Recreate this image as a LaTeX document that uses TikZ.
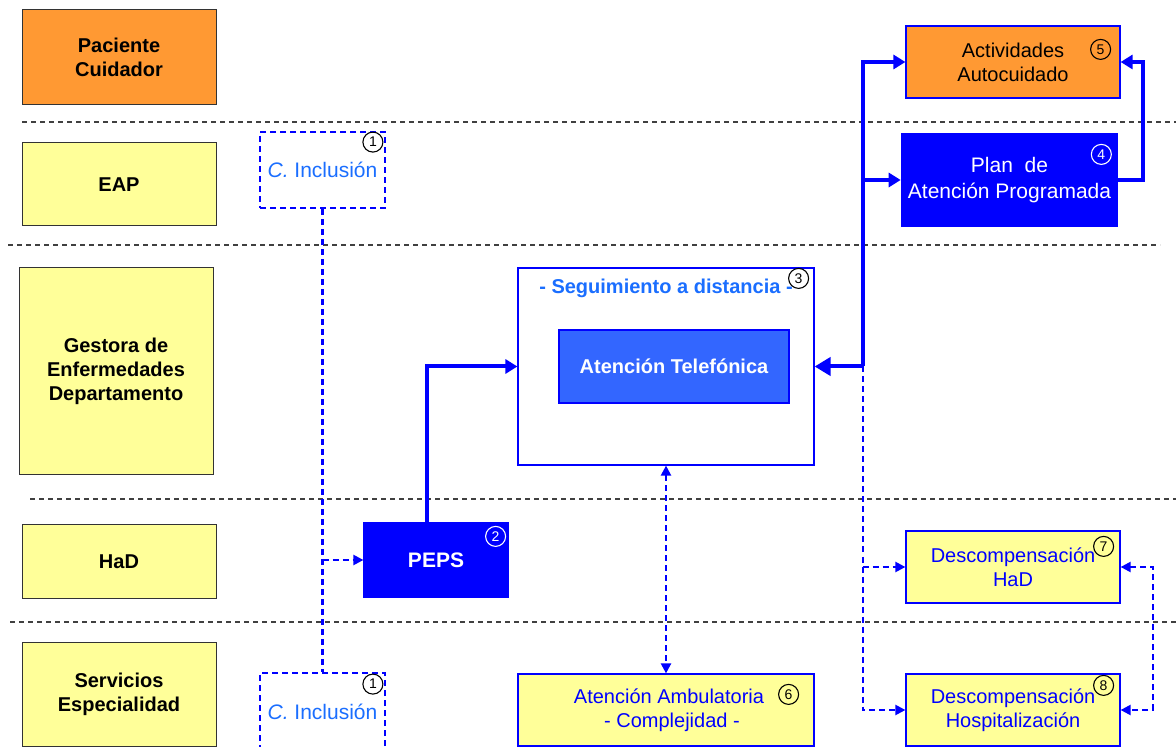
\documentclass[tikz,border=0pt]{standalone}
\usepackage{fontspec}
\setmainfont{Liberation Sans}
\usepackage{tikz}
\usetikzlibrary{arrows.meta,calc,positioning}

\definecolor{lineblue}{HTML}{0000FF}
\definecolor{textblue}{HTML}{1A6EFF}
\definecolor{telblue}{HTML}{3366FF}
\definecolor{boxorange}{HTML}{FF9933}
\definecolor{boxyellow}{HTML}{FFFF99}

\begin{document}
\begin{tikzpicture}[
  x=0.5pt, y=-0.5pt,
  font=\fontsize{10}{12}\selectfont,
  role/.style={draw=black!80, line width=.5pt, align=center, font=\fontsize{10}{12}\selectfont\bfseries,
               minimum width=97pt},
  task/.style={draw=lineblue, line width=.6pt, align=center, text=lineblue},
  incl/.style={draw=lineblue, dashed, line width=.9pt, dash pattern=on 3pt off 2pt,
               minimum width=62.5pt, text=textblue, font=\fontsize{10.5}{12}\selectfont},
  num/.style={draw, circle, inner sep=0pt, minimum size=10pt, line width=.55pt,
              font=\fontsize{7}{7}\selectfont\rmfamily},
  lane/.style={black!75, line width=.55pt, dash pattern=on 2.5pt off 2pt},
  flow/.style={lineblue, line width=2pt, -{Triangle[length=6pt,width=7pt]}},
  link/.style={lineblue, line width=1.1pt, dash pattern=on 3pt off 2pt,
               -{Triangle[length=5pt,width=5pt]}},
]
\useasboundingbox[fill=white] (0,0) rectangle (1176,747);

% lanes
\draw[lane] (22,122) -- (1176,122);
\draw[lane] (8,245) -- (1160,245);
\draw[lane] (30,499) -- (1176,499);
\draw[lane] (10,622) -- (1176,622);

% roles
\node[role, fill=boxorange, minimum height=47.5pt] (pac) at (119,57.5) {Paciente\\Cuidador};
\node[role, fill=boxyellow, minimum height=41.5pt] (eap) at (119,184.5) {EAP};
\node[role, fill=boxyellow, minimum height=103.5pt] (ges) at (116,371.5)
 {Gestora de\\Enfermedades\\Departamento};
\node[role, fill=boxyellow, minimum height=36.5pt] (had) at (119,561.5) {HaD};
\node[role, fill=boxyellow, minimum height=52pt] (ser) at (119,694) {Servicios\\Especialidad};

% inclusion
\node[incl, minimum height=38pt] (incA) at (322.5,170) {\textit{C.} Inclusión};
\node[incl, minimum height=39pt] (incB) at (322.5,712) {\textit{C.} Inclusión};
\node[num] (n1a) at ([xshift=-6.5pt,yshift=-5.5pt]incA.north east) {1};
\node[num] (n1b) at ([xshift=-6.5pt,yshift=-6pt]incB.north east) {1};

% tasks
\node[task, fill=lineblue, text=white, font=\fontsize{10.5}{12}\selectfont\bfseries,
      minimum width=72pt, minimum height=37pt] (peps) at (436,560) {PEPS};
\node[num, draw=white, text=white] (n2) at ([xshift=-6.5pt,yshift=-7pt]peps.north east) {2};

\node[task, fill=white, minimum width=148pt, minimum height=98.5pt] (seg) at (666,366.5) {};
\node[text=textblue, font=\fontsize{10}{12}\selectfont\bfseries] (segt)
 at ([yshift=-10.5pt]seg.north) {- Seguimiento a distancia -};
\node[num] (n3) at ([xshift=-8pt,yshift=-5.5pt]seg.north east) {3};
\node[task, fill=telblue, text=white, font=\fontsize{10}{12}\selectfont\bfseries,
      minimum width=115pt, minimum height=36.5pt] (tel) at (674,366.5) {Atención Telefónica};

\node[task, fill=boxorange, text=black, minimum width=107pt, minimum height=36pt] (act)
 at (1013,62) {Actividades\\Autocuidado};
\node[num] (n5) at ([xshift=-10pt,yshift=-12pt]act.north east) {5};
\node[task, fill=lineblue, text=white, font=\fontsize{10.5}{13}\selectfont,
      minimum width=107.5pt, minimum height=46pt] (plan) at (1009.5,180)
 {Plan~~de\\Atención Programada};
\node[num, draw=white, text=white] (n4) at ([xshift=-8.5pt,yshift=-10.5pt]plan.north east) {4};

\node[task, fill=boxyellow, minimum width=107pt, minimum height=36pt] (dhad)
 at (1013,567) {Descompensación\\HaD};
\node[num] (n7) at ([xshift=-8.5pt,yshift=-8pt]dhad.north east) {7};
\node[task, fill=boxyellow, minimum width=107pt, minimum height=36pt] (dhos)
 at (1013,710) {Descompensación\\Hospitalización};
\node[num] (n8) at ([xshift=-8.5pt,yshift=-6pt]dhos.north east) {8};
\node[task, fill=boxyellow, minimum width=148pt, minimum height=36pt] (amb)
 at (666,710) {\hspace{3pt}Atención Ambulatoria\\\hspace{6pt}- Complejidad -};
\node[num] (n6) at ([xshift=-13pt,yshift=-10.5pt]amb.north east) {6};

% connectors
\coordinate (hub) at ($(seg.east)+(48,0)$);
\coordinate (split) at (incA.south |- peps.west);
\draw[link, -] (incA.south) -- (incB.north);
\draw[link] (split) -- (peps.west);
\draw[flow] ([xshift=-4.5pt]peps.north) |- (seg.west);
\draw[flow] (hub) |- (act.west);
\draw[flow] (hub) |- (plan.west);
\draw[flow, -{Triangle[length=8pt,width=9pt]}] (hub) -- (seg.east);
\draw[flow] (plan.east) -- ++(25,0) |- (act.east);
\draw[link] (hub) |- (dhos.west);
\draw[link] (hub |- dhad.west) -- (dhad.west);
\draw[link, {Triangle[length=5pt,width=5pt]}-{Triangle[length=5pt,width=5pt]}]
 (dhad.east) -- ++(32,0) |- (dhos.east);
\draw[link, {Triangle[length=5pt,width=5pt]}-{Triangle[length=5pt,width=5pt]}]
 (seg.south) -- (amb.north);
\end{tikzpicture}
\end{document}
